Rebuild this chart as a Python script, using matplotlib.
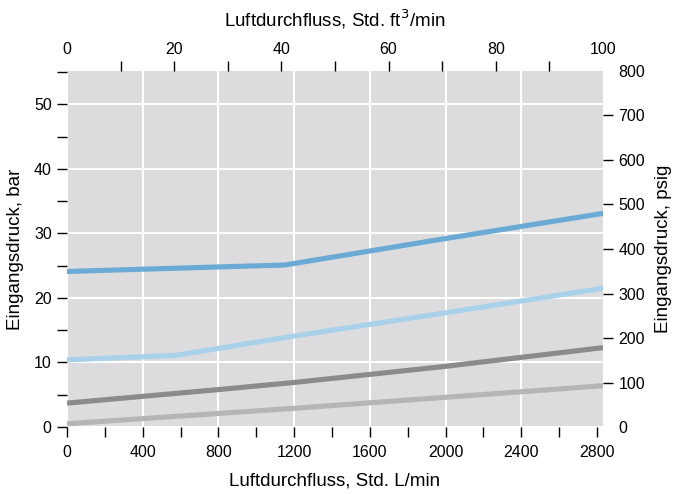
import matplotlib
matplotlib.use("Agg")
import matplotlib.pyplot as plt
import numpy as np

plt.rcParams['font.family'] = ['Liberation Sans', 'DejaVu Sans']

# data (x in Std. L/min, y in bar)
x_blau = [0, 1150, 2000, 2832]
y_blau = [24.1, 25.1, 29.2, 33.1]

x_hellblau = [0, 575, 1200, 2000, 2832]
y_hellblau = [10.4, 11.1, 14.1, 17.7, 21.5]

x_grau = [0, 800, 1200, 2000, 2832]
y_grau = [3.7, 5.8, 6.9, 9.4, 12.3]

x_hellgrau = [0, 1200, 2000, 2832]
y_hellgrau = [0.5, 2.9, 4.6, 6.4]

cfm_max = 100
lpm_max = cfm_max * 28.317
psi_max = 800
bar_max = psi_max * 0.0689476

fig = plt.figure(figsize=(6.74, 4.94), dpi=100)
ax = fig.add_axes([0.0994, 0.1356, 0.7953, 0.7207])
ax.set_facecolor('#dcdcde')

ax.plot(x_hellgrau, y_hellgrau, color='#b5b5b7', lw=3.7, solid_capstyle='butt', zorder=3)
ax.plot(x_grau, y_grau, color='#8b8b8d', lw=3.7, solid_capstyle='butt', zorder=3)
ax.plot(x_hellblau, y_hellblau, color='#a9d1ea', lw=3.7, solid_capstyle='butt', zorder=3)
ax.plot(x_blau, y_blau, color='#6aaad4', lw=3.7, solid_capstyle='butt', zorder=3)

ax.set_xlim(0, lpm_max)
ax.set_ylim(0, bar_max)

ax.set_xticks(np.arange(0, 2801, 400))
ax.set_xticks(np.arange(200, 2801, 400), minor=True)
ax.set_yticks(np.arange(0, 51, 10))
ax.set_yticks(np.arange(5, 56, 10), minor=True)
ax.grid(True, which='major', color='white', lw=1.5, zorder=1)
ax.set_axisbelow(True)
ax.xaxis.get_major_ticks()[-1].gridline.set_visible(False)

tick_kw = dict(length=7, width=1, color='black', labelsize=11.5)
ax.tick_params(axis='both', which='both', **tick_kw)
ax.tick_params(axis='x', which='both', pad=6)
ax.tick_params(axis='y', which='both', pad=4)
ax.xaxis.get_major_ticks()[0].tick1line.set_visible(False)
ax.yaxis.get_major_ticks()[0].tick1line.set_visible(False)

ax.set_xlabel('Luftdurchfluss, Std. L/min', fontsize=13.5, labelpad=9)
ax.set_ylabel('Eingangsdruck, bar', fontsize=13.5, labelpad=7)

# right axis in psig
ax_r = ax.twinx()
ax_r.set_ylim(0, psi_max)
ax_r.set_yticks(np.arange(0, 801, 100))
ax_r.tick_params(axis='y', pad=4, **tick_kw)
ax_r.yaxis.get_major_ticks()[0].tick2line.set_visible(False)
ax_r.yaxis.get_major_ticks()[-1].tick2line.set_visible(False)
ax_r.set_ylabel('Eingangsdruck, psig', fontsize=13.5, labelpad=7)

# top axis in ft3/min
ax_t = ax.twiny()
ax_t.set_xlim(0, cfm_max)
ax_t.set_xticks(np.arange(0, 101, 20))
ax_t.set_xticks(np.arange(10, 100, 20), minor=True)
ax_t.tick_params(axis='x', which='both', pad=3, **tick_kw)
ax_t.xaxis.get_major_ticks()[0].tick2line.set_visible(False)
ax_t.xaxis.get_major_ticks()[-1].tick2line.set_visible(False)
ax_t.set_xlabel('Luftdurchfluss, Std. ft$^3$/min', fontsize=13.5, labelpad=11)

for a in (ax, ax_r, ax_t):
    for s in a.spines.values():
        s.set_visible(False)

fig.savefig('out.png', dpi=100)
